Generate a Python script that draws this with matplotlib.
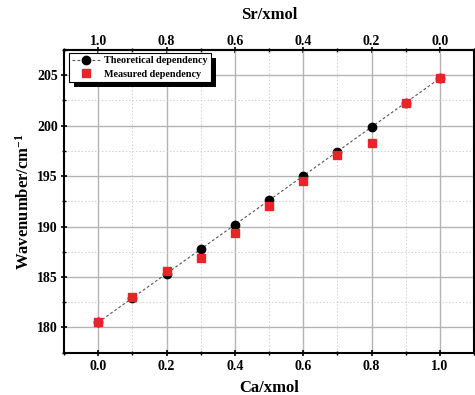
import matplotlib
matplotlib.use("Agg")
import matplotlib.pyplot as plt
from matplotlib.ticker import MultipleLocator, FixedLocator
from matplotlib.patches import Rectangle

# Composition (Ca fraction) and wavenumbers
ca_frac = [0.0, 0.1, 0.2, 0.3, 0.4, 0.5, 0.6, 0.7, 0.8, 0.9, 1.0]
theoretical = [180.50, 182.92, 185.34, 187.76, 190.18, 192.60,
               195.02, 197.44, 199.86, 202.28, 204.70]
measured = [180.5, 183.0, 185.6, 186.9, 189.4, 192.0,
            194.5, 197.1, 198.3, 202.2, 204.7]

ca_ticks = [0.0, 0.2, 0.4, 0.6, 0.8, 1.0]
sr_ticks = [1.0, 0.8, 0.6, 0.4, 0.2, 0.0]
y_ticks = [180, 185, 190, 195, 200, 205]

plt.rcParams["font.family"] = ["Liberation Serif", "DejaVu Serif"]
plt.rcParams["font.weight"] = "bold"
plt.rcParams["mathtext.fontset"] = "custom"
plt.rcParams["mathtext.rm"] = "Liberation Serif"
plt.rcParams["mathtext.bf"] = "Liberation Serif:bold"
plt.rcParams["mathtext.default"] = "bf"

W, H = 475, 395
fig = plt.figure(figsize=(W / 100, H / 100), dpi=100)
ax = fig.add_axes([64 / W, 42.3 / H, 410 / W, 302.7 / H])

ax.set_xlim(-0.1, 1.1)
ax.set_ylim(177.5, 207.5)

# grid
ax.xaxis.set_major_locator(FixedLocator(ca_ticks))
ax.xaxis.set_minor_locator(MultipleLocator(0.1))
ax.yaxis.set_major_locator(FixedLocator(y_ticks))
ax.yaxis.set_minor_locator(MultipleLocator(2.5))
ax.grid(True, which="major", color="#b4b4b4", linewidth=1.0, linestyle="-")
ax.grid(True, which="minor", color="#cfcfcf", linewidth=0.7, linestyle=(0, (1.5, 2)))
ax.set_axisbelow(True)

ax.plot(ca_frac, theoretical, linestyle=(0, (2.5, 2)), color="#555555", linewidth=0.8,
        marker="o", markersize=6.0, markerfacecolor="black", markeredgecolor="black",
        label="Theoretical dependency", zorder=3)
ax.plot(ca_frac, measured, linestyle="none", marker="s", markersize=5.2,
        markerfacecolor="#e8232a", markeredgecolor="#e8232a",
        label="Measured dependency", zorder=4)

for s in ax.spines.values():
    s.set_linewidth(1.5)
    s.set_color("black")

ax.tick_params(which="major", direction="inout", length=4, width=1.2, labelsize=10)
ax.tick_params(which="minor", direction="inout", length=2.5, width=1.0)
ax.tick_params(axis="x", which="major", pad=3)
ax.tick_params(axis="y", which="major", pad=2.3)
ax.set_xticklabels([f"{v:.1f}" for v in ca_ticks], fontweight="bold")
ax.set_yticklabels([str(v) for v in y_ticks], fontweight="bold")

ax.set_xlabel("Ca/xmol", fontsize=12, fontweight="bold", labelpad=5)
ax.set_ylabel(r"Wavenumber/cm$^{-1}$", fontsize=12, fontweight="bold", labelpad=3)

# Sr fraction on the top axis (Sr = 1 - Ca)
top = ax.secondary_xaxis("top", functions=(lambda x: 1 - x, lambda x: 1 - x))
top.xaxis.set_major_locator(FixedLocator(sr_ticks))
top.xaxis.set_minor_locator(MultipleLocator(0.1))
top.set_xticklabels([f"{v:.1f}" for v in sr_ticks], fontweight="bold")
top.tick_params(which="major", direction="inout", length=4, width=1.2, labelsize=10, pad=-0.8)
top.tick_params(which="minor", direction="inout", length=2.5, width=1.0)
top.spines["top"].set_linewidth(1.5)
top.set_xlabel("Sr/xmol", fontsize=12, fontweight="bold", labelpad=11.4)

leg = ax.legend(loc="upper left", bbox_to_anchor=(5 / 410, 1 - 3 / 302.7),
                borderaxespad=0, fancybox=False,
                edgecolor="black", framealpha=1, prop={"size": 7.3, "weight": "bold"},
                handlelength=2.8, handletextpad=0.35, borderpad=0.3,
                labelspacing=0.45)
leg.get_frame().set_linewidth(0.8)
leg.set_zorder(6)

# drop shadow behind the legend box
fig.canvas.draw()
bb = leg.get_frame().get_window_extent().transformed(fig.transFigure.inverted())
dx, dy = 5 / W, 5 / H
ax.add_patch(Rectangle((bb.x0 + dx, bb.y0 - dy), bb.width, bb.height,
                       transform=fig.transFigure, facecolor="black",
                       edgecolor="none", zorder=5.5, clip_on=False))

fig.savefig("out.png", dpi=100)
